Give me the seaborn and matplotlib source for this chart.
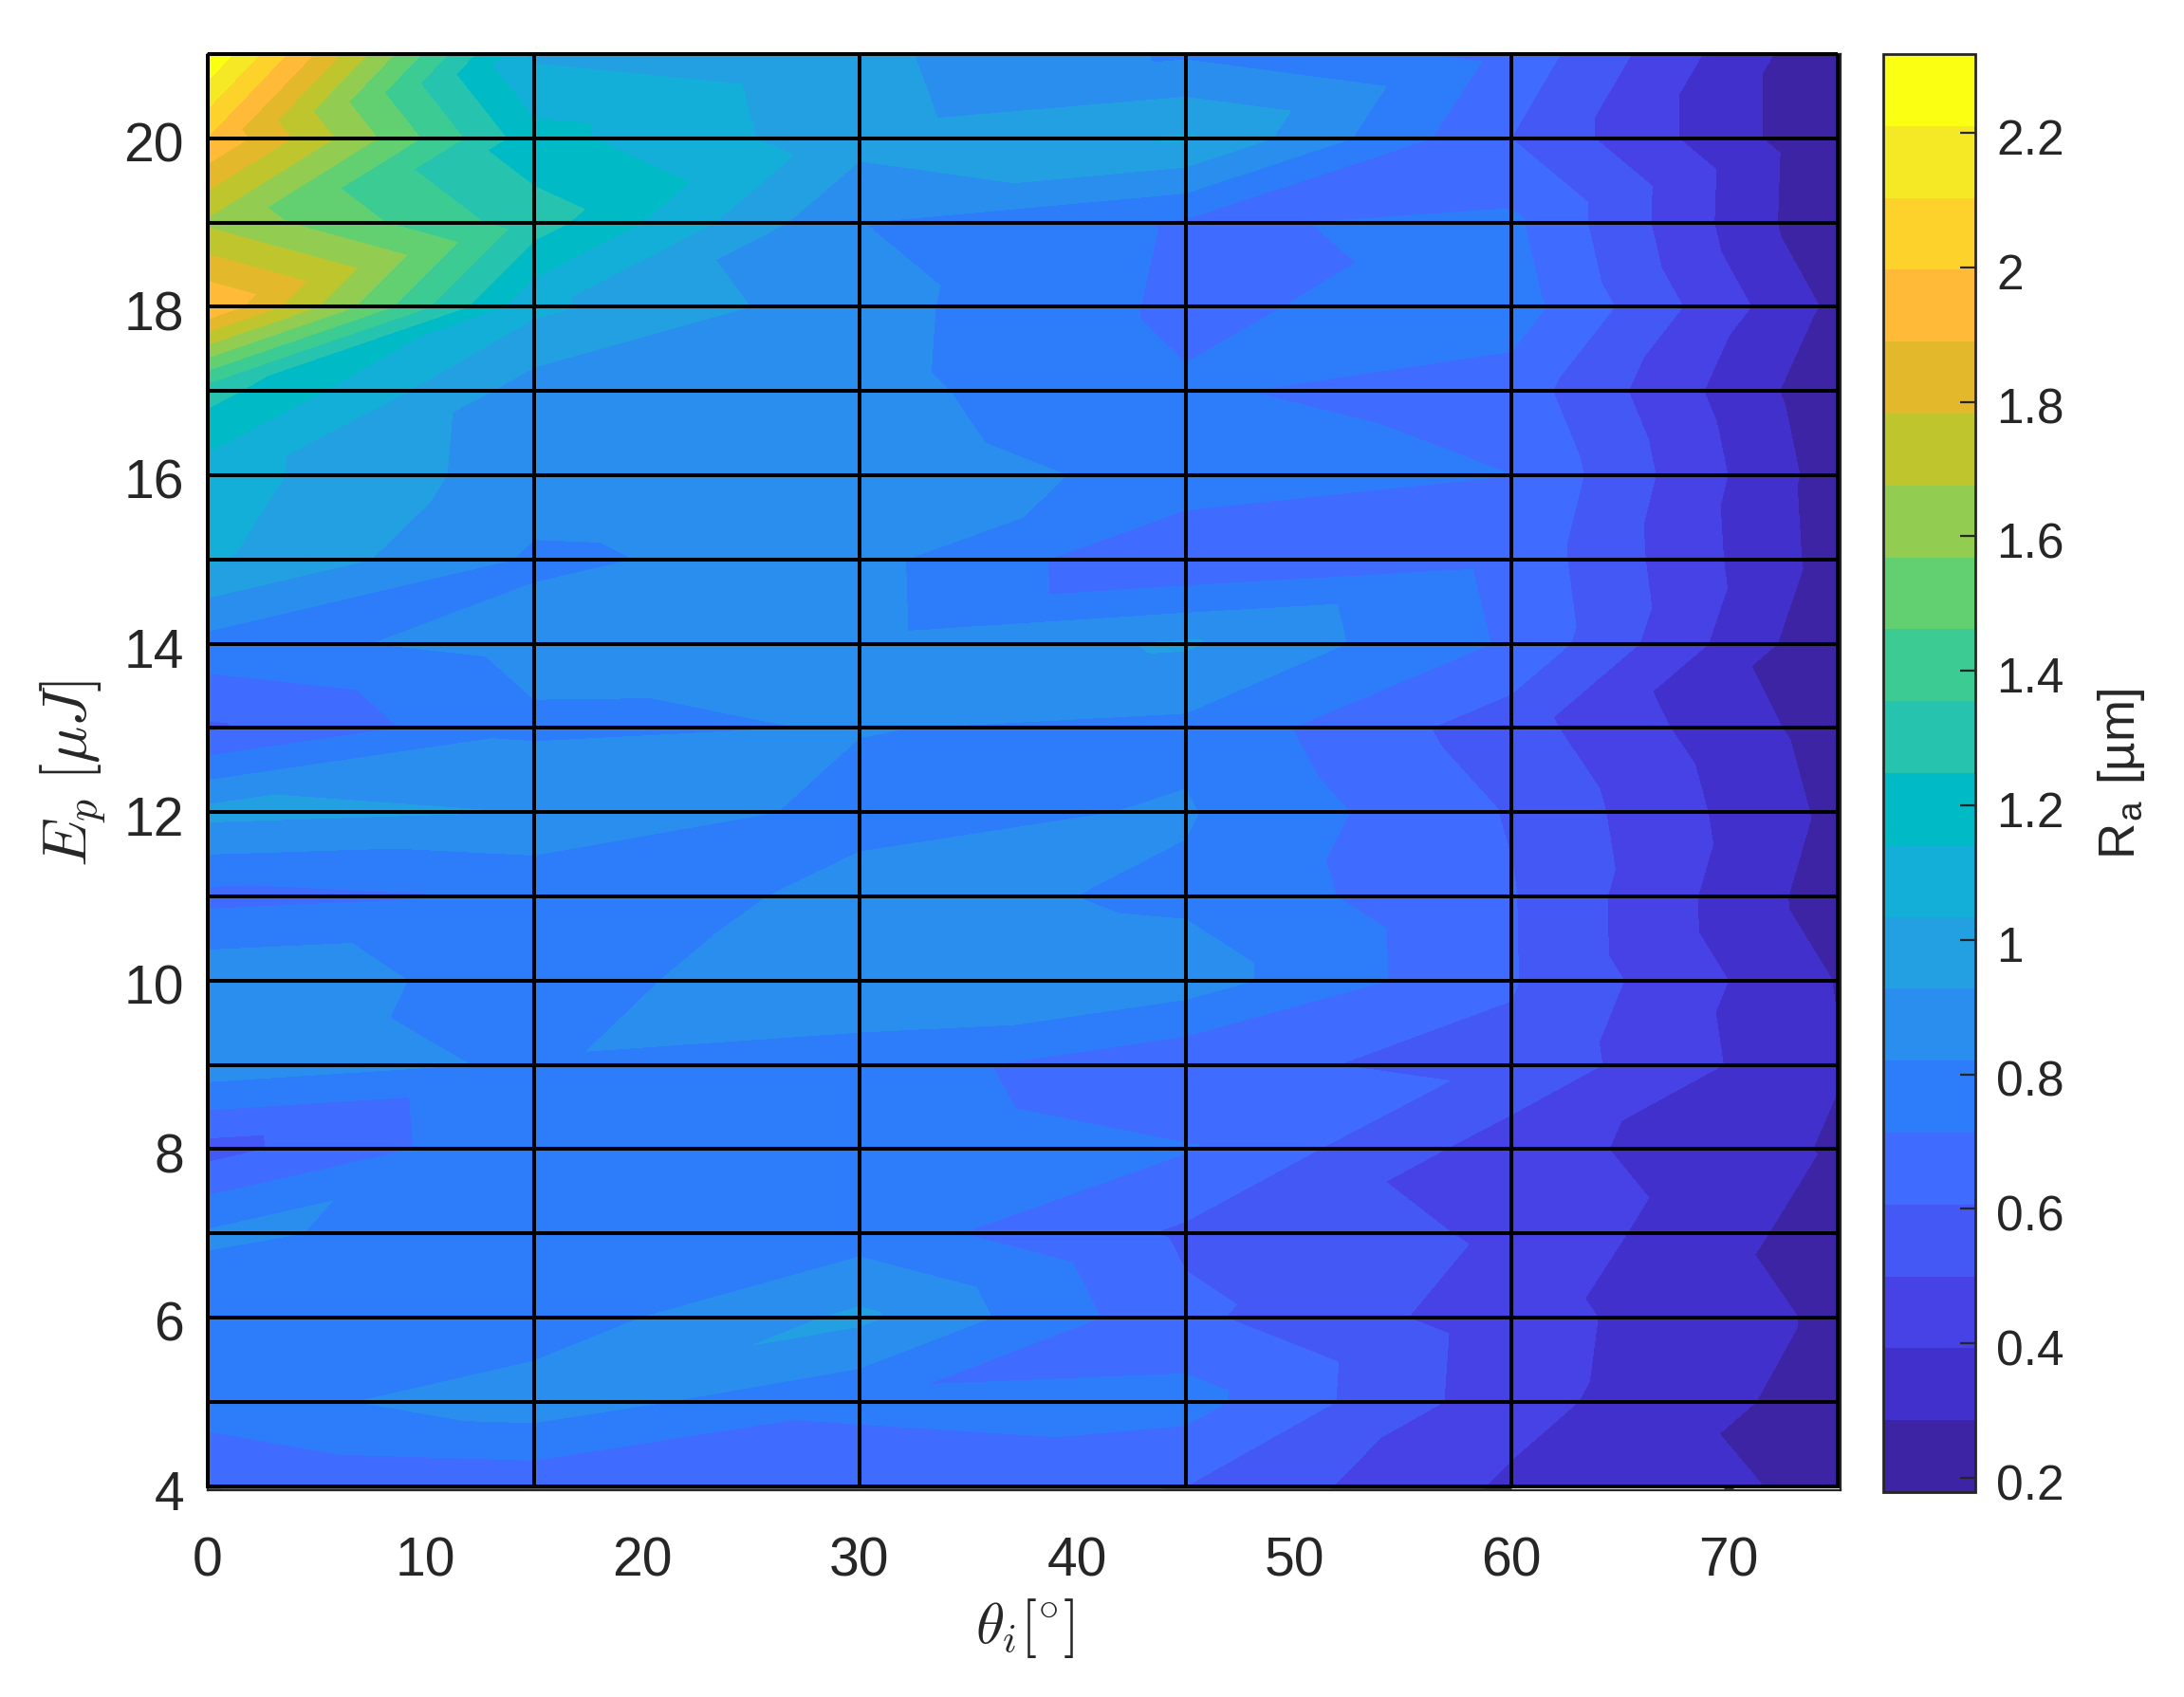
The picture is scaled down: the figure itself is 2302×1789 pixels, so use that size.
import numpy as np
import matplotlib
matplotlib.use("Agg")
import matplotlib.pyplot as plt
import matplotlib.tri as mtri
from matplotlib.colors import ListedColormap, BoundaryNorm
from matplotlib.transforms import ScaledTranslation
import seaborn as sns

# incidence angle and pulse energy of the measured grid
theta = [0, 15, 30, 45, 60, 75]
energy = [3.95, 5, 6, 7, 8, 9, 10, 11, 12, 13, 14, 15, 16, 17, 18, 19, 20, 21]
grid_energy = list(range(4, 22))

# roughness per energy, one entry per angle
ra_e4 = [0.60, 0.628, 0.65, 0.60, 0.372, 0.262]
ra_e5 = [0.77, 0.88, 0.735, 0.755, 0.433, 0.237]
ra_e6 = [0.77, 0.756, 0.95, 0.63, 0.439, 0.265]
ra_e7 = [0.833, 0.79, 0.77, 0.588, 0.48, 0.234]
ra_e8 = [0.565, 0.80, 0.79, 0.72, 0.444, 0.273]
ra_e9 = [0.884, 0.805, 0.77, 0.63, 0.58, 0.292]
ra_e10 = [0.90, 0.77, 0.90, 0.875, 0.615, 0.281]
ra_e11 = [0.68, 0.72, 0.86, 0.80, 0.613, 0.228]
ra_e12 = [0.96, 0.925, 0.785, 0.83, 0.599, 0.257]
ra_e13 = [0.59, 0.80, 0.825, 0.795, 0.545, 0.233]
ra_e14 = [0.78, 0.86, 0.857, 0.94, 0.698, 0.193]
ra_e15 = [1.05, 0.805, 0.855, 0.61, 0.683, 0.237]
ra_e16 = [1.085, 0.87, 0.88, 0.786, 0.714, 0.23]
ra_e17 = [1.29, 0.875, 0.857, 0.725, 0.665, 0.204]
ra_e18 = [1.99, 1.06, 0.86, 0.69, 0.768, 0.258]
ra_e19 = [1.655, 1.30, 0.822, 0.70, 0.735, 0.185]
ra_e20 = [1.99, 1.18, 0.966, 1.045, 0.606, 0.19]
ra_e21 = [2.31, 1.015, 0.952, 0.804, 0.68, 0.19]

ra = np.array([ra_e4, ra_e5, ra_e6, ra_e7, ra_e8, ra_e9, ra_e10, ra_e11, ra_e12,
               ra_e13, ra_e14, ra_e15, ra_e16, ra_e17, ra_e18, ra_e19, ra_e20, ra_e21])

band_colors = ["#3D24A4", "#4230CC", "#4642E6", "#4458F5", "#3F6BFF",
               "#2D7DFA", "#2A8EEE", "#23A0E2", "#14AFD8", "#00BAC6",
               "#26C3AE", "#3BCB93", "#62D070", "#92CC50", "#BFC52C",
               "#E4B82B", "#FFBB38", "#FDD22B", "#F5E824", "#FBFF12"]
ra_ticks = [0.2, 0.4, 0.6, 0.8, 1, 1.2, 1.4, 1.6, 1.8, 2, 2.2]
ra_ticklabels = ["0.2", "0.4", "0.6", "0.8", "1", "1.2", "1.4", "1.6", "1.8", "2", "2.2"]

sns.set_theme(style="ticks")
plt.rcParams["font.family"] = ["Liberation Sans", "DejaVu Sans"]
plt.rcParams["mathtext.fontset"] = "cm"
plt.rcParams["text.color"] = "0.15"
plt.rcParams["axes.labelcolor"] = "0.15"

W, H = 2302, 1790
fig = plt.figure(figsize=(W / 200, H / 200), dpi=200)
ax = fig.add_axes([219 / W, 1 - 1572 / H, (1940 - 219) / W, (1572 - 58) / H])
cax = fig.add_axes([1985 / W, 1 - 1574 / H, (2082 - 1985) / W, (1574 - 58) / H])

# cells are split along the lower-left to upper-right diagonal
X, Y = np.meshgrid(theta, energy)
n_rows, n_cols = X.shape
triangles = []
for j in range(n_rows - 1):
    for i in range(n_cols - 1):
        a = j * n_cols + i
        triangles.append([a, a + 1, a + n_cols + 1])
        triangles.append([a, a + n_cols + 1, a + n_cols])
tri = mtri.Triangulation(X.ravel(), Y.ravel(), triangles)

levels = np.linspace(0.179, 2.317, 21)
cmap = ListedColormap(sns.color_palette(band_colors))
norm = BoundaryNorm(levels, cmap.N)
cs = ax.tricontourf(tri, ra.ravel(), levels=levels, cmap=cmap, norm=norm, antialiased=False)

ax.hlines(grid_energy, 0, 75, color="black", lw=1.45, clip_on=False, zorder=3)
ax.vlines(theta, 3.97, 21, color="black", lw=1.45, clip_on=False, zorder=3)
# sliver below the last grid line where the data stops short
ax.hlines([3.975, 3.975], [60, 70.2], [69.8, 75], color="white", lw=0.5, zorder=2)

ax.set_xlim(0, 75.15)
ax.set_ylim(3.95, 21)
ax.set_xticks([0, 10, 20, 30, 40, 50, 60, 70])
ax.set_yticks([4, 6, 8, 10, 12, 14, 16, 18, 20])
ax.tick_params(length=0, labelsize=20.5, labelcolor="0.15")
ax.tick_params(axis="x", pad=17)
ax.tick_params(axis="y", pad=9)
ax.set_xlabel(r"$\theta_i[^{\circ}]$", fontsize=22, labelpad=3.5)
ax.set_ylabel(r"$E_p\;[\mu J]$", fontsize=23.5, labelpad=6)
for side in ax.spines.values():
    side.set_linewidth(0.8)
    side.set_color("0.15")

cbar = fig.colorbar(cs, cax=cax, ticks=ra_ticks, spacing="proportional", drawedges=False)
cbar.ax.set_yticklabels(ra_ticklabels)
cbar.ax.minorticks_off()
cbar.ax.set_axisbelow(False)
cbar.ax.tick_params(which="major", direction="in", length=5.8, width=0.8, labelsize=18.5,
                    color="0.15", labelcolor="0.15", pad=8)
cbar.outline.set_linewidth(1.0)
cbar.outline.set_edgecolor("0.15")
cbar.set_label("R$_{\\mathregular{a}}$ [µm]", fontsize=19, labelpad=12)

# tick labels sit a little lower than the ticks in the original
nudge = ScaledTranslation(0, -3 / 200, fig.dpi_scale_trans)
for label in ax.get_yticklabels() + cbar.ax.get_yticklabels():
    label.set_transform(label.get_transform() + nudge)

fig.savefig("out.png", dpi=200)
plt.close(fig)
